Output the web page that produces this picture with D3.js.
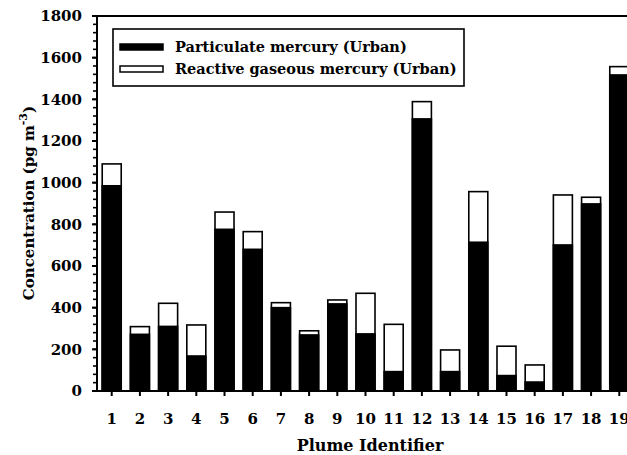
<!DOCTYPE html>
<html>
<head>
<meta charset="utf-8">
<script src="https://cdn.jsdelivr.net/npm/d3@7"></script>
<style>
  body { margin: 0; background: #fff; }
  #chart text { font-family: "DejaVu Serif", serif; font-weight: bold; }
</style>
</head>
<body>
<svg id="chart" width="627" height="455"></svg>
<script>
// plume ids and stacked concentrations (pg m-3)
const plumes = d3.range(1, 20).map(String);
const particulate = [985, 272, 310, 168, 776, 680, 400, 269, 418, 274, 93, 1306, 93, 714, 74, 43, 701, 898, 1517];
const reactive = [105, 37, 111, 149, 83, 85, 24, 20, 19, 195, 227, 83, 104, 243, 141, 82, 240, 32, 40];
const yTicks = d3.range(0, 1801, 200);
const yMinor = d3.range(0, 1801, 40);

const svg = d3.select("#chart");
const plotLeft = 97, plotTop = 16, plotBottom = 391, plotRight = 634;

const x = d3.scaleBand().domain(plumes)
    .range([plotLeft, plotRight])
    .paddingInner(0.326)
    .paddingOuter(0.185);
const y = d3.scaleLinear().domain([0, 1800]).range([plotBottom, plotTop]);

const rows = plumes.map((id, i) => ({ id, pm: particulate[i], rgm: reactive[i] }));

// bars: white full stack first, black particulate over it
const bars = svg.append("g");
bars.selectAll("rect.total")
    .data(rows)
    .join("rect")
    .attr("class", "total")
    .attr("x", d => x(d.id))
    .attr("width", x.bandwidth())
    .attr("y", d => y(d.pm + d.rgm))
    .attr("height", d => plotBottom - y(d.pm + d.rgm))
    .attr("fill", "#fff")
    .attr("stroke", "#000")
    .attr("stroke-width", 1.6);
bars.selectAll("rect.pm")
    .data(rows)
    .join("rect")
    .attr("class", "pm")
    .attr("x", d => x(d.id))
    .attr("width", x.bandwidth())
    .attr("y", d => y(d.pm))
    .attr("height", d => plotBottom - y(d.pm))
    .attr("fill", "#000")
    .attr("stroke", "#000")
    .attr("stroke-width", 1.6);

// frame
svg.append("path")
    .attr("d", `M${plotLeft},${plotBottom}V${plotTop}H${plotRight}`)
    .attr("fill", "none")
    .attr("stroke", "#000")
    .attr("stroke-width", 2);
svg.append("line")
    .attr("x1", plotLeft).attr("x2", plotRight)
    .attr("y1", plotBottom).attr("y2", plotBottom)
    .attr("stroke", "#000").attr("stroke-width", 2);

// y axis
const yAxis = svg.append("g");
yAxis.selectAll("line.minor")
    .data(yMinor)
    .join("line")
    .attr("class", "minor")
    .attr("x1", plotLeft - 4).attr("x2", plotLeft)
    .attr("y1", d => y(d)).attr("y2", d => y(d))
    .attr("stroke", "#000").attr("stroke-width", 1.6);
yAxis.selectAll("line.major")
    .data(yTicks)
    .join("line")
    .attr("class", "major")
    .attr("x1", plotLeft - 5).attr("x2", plotLeft)
    .attr("y1", d => y(d)).attr("y2", d => y(d))
    .attr("stroke", "#000").attr("stroke-width", 2);
yAxis.selectAll("text")
    .data(yTicks)
    .join("text")
    .attr("x", 82)
    .attr("y", d => y(d))
    .attr("dy", "0.35em")
    .attr("text-anchor", "end")
    .attr("font-size", 15)
    .text(d => d);

// x axis
const xAxis = svg.append("g");
xAxis.selectAll("line")
    .data(plumes)
    .join("line")
    .attr("x1", d => x(d) + x.bandwidth() / 2)
    .attr("x2", d => x(d) + x.bandwidth() / 2)
    .attr("y1", plotBottom).attr("y2", plotBottom + 5)
    .attr("stroke", "#000").attr("stroke-width", 2);
xAxis.selectAll("text")
    .data(plumes)
    .join("text")
    .attr("x", d => x(d) + x.bandwidth() / 2)
    .attr("y", 424)
    .attr("text-anchor", "middle")
    .attr("font-size", 15)
    .text(d => d);

svg.append("text")
    .attr("x", 370).attr("y", 451)
    .attr("text-anchor", "middle")
    .attr("font-size", 16)
    .text("Plume Identifier");

const yTitle = svg.append("text")
    .attr("transform", "translate(34,203) rotate(-90)")
    .attr("text-anchor", "middle")
    .attr("font-size", 15);
yTitle.append("tspan").text("Concentration (pg m");
yTitle.append("tspan").attr("dy", -7).attr("font-size", 11).text("-3");
yTitle.append("tspan").attr("dy", 7).text(")");

// legend
const legend = svg.append("g");
legend.append("rect")
    .attr("x", 113).attr("y", 29)
    .attr("width", 351).attr("height", 57)
    .attr("fill", "#fff").attr("stroke", "#000").attr("stroke-width", 1.6);
const legendItems = [
    { label: "Particulate mercury (Urban)", fill: "#000" },
    { label: "Reactive gaseous mercury (Urban)", fill: "#fff" }
];
const li = legend.selectAll("g.item")
    .data(legendItems)
    .join("g")
    .attr("class", "item")
    .attr("transform", (d, i) => `translate(0,${47 + i * 22})`);
li.append("rect")
    .attr("x", 120).attr("y", -3)
    .attr("width", 43).attr("height", 6)
    .attr("fill", d => d.fill)
    .attr("stroke", "#000").attr("stroke-width", 1.5);
li.append("text")
    .attr("x", 175).attr("y", 0)
    .attr("dy", "0.35em")
    .attr("font-size", 14.5)
    .text(d => d.label);
</script>
</body>
</html>
